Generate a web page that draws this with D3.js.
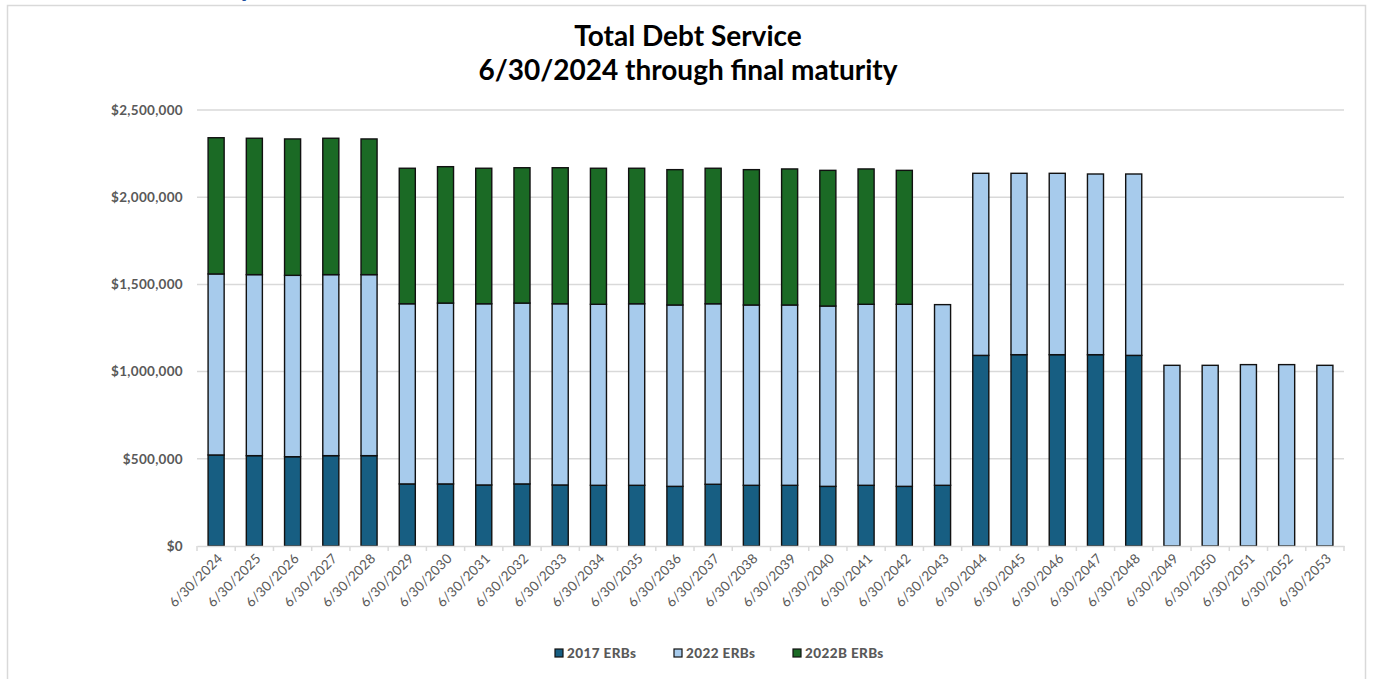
<!DOCTYPE html>
<html><head><meta charset="utf-8">
<script src="https://cdn.jsdelivr.net/npm/d3@7"></script>
<style>body{margin:0;background:#fff;}svg{display:block;}</style>
</head><body>
<svg id="c" width="1373" height="679"></svg>
<script>
const categories = ["6/30/2024","6/30/2025","6/30/2026","6/30/2027","6/30/2028","6/30/2029","6/30/2030","6/30/2031","6/30/2032","6/30/2033","6/30/2034","6/30/2035","6/30/2036","6/30/2037","6/30/2038","6/30/2039","6/30/2040","6/30/2041","6/30/2042","6/30/2043","6/30/2044","6/30/2045","6/30/2046","6/30/2047","6/30/2048","6/30/2049","6/30/2050","6/30/2051","6/30/2052","6/30/2053"];
const erb2017 = [522000,518000,512000,518000,518000,356000,356000,350000,356000,350000,348000,348000,342000,354000,348000,348000,342000,348000,342000,348000,1093000,1097000,1097000,1097000,1093000,0,0,0,0,0];
const erb2022 = [1038000,1038000,1040000,1038000,1038000,1033000,1037000,1039000,1037000,1039000,1038000,1041000,1040000,1035000,1034000,1034000,1034000,1038000,1044000,1036000,1044000,1040000,1040000,1036000,1040000,1036000,1036000,1040000,1040000,1036000];
const erb2022B = [781000,782000,782000,782000,778000,777000,782000,777000,776000,780000,780000,777000,776000,777000,776000,780000,778000,776000,768000,0,0,0,0,0,0,0,0,0,0,0];
const seriesNames = ["2017 ERBs","2022 ERBs","2022B ERBs"];
const seriesColors = ["#175e82","#a7cbec","#1b6a25"];
const yTicks = [0,500000,1000000,1500000,2000000,2500000];
const titleLines = ["Total Debt Service","6/30/2024 through final maturity"];

const svg = d3.select("#c");
const m = {left:197, right:1344, top:110, bottom:546};

// outer border
svg.append("rect").attr("x",7.5).attr("y",5.5).attr("width",1358).attr("height",700)
  .attr("fill","none").attr("stroke","#d9d9d9").attr("stroke-width",1.5);
// clipped heading fragment (cut off at top edge, as in the reference)
svg.append("text").attr("x",239).attr("y",-4).attr("font-family","Lato, sans-serif")
  .attr("font-weight","bold").attr("font-size",28).attr("fill","#1f4fa0").text("y");

// title
svg.selectAll("text.title").data(titleLines).join("text").attr("class","title")
  .attr("x",688).attr("y",(d,i)=>46+i*34).attr("text-anchor","middle")
  .attr("font-family","Lato, sans-serif").attr("font-weight","bold").attr("font-size",28)
  .attr("fill","#000").text(d=>d);

const x = d3.scaleBand().domain(categories).range([m.left,m.right]).paddingInner(0.58).paddingOuter(0.29);
const xb = d3.scaleBand().domain(categories).range([m.left,m.right]);
const y = d3.scaleLinear().domain([0,2500000]).range([m.bottom,m.top]);

// gridlines
svg.append("g").selectAll("line").data(yTicks.filter(d=>d>0)).join("line")
  .attr("x1",m.left).attr("x2",m.right).attr("y1",d=>y(d)).attr("y2",d=>y(d))
  .attr("stroke","#d9d9d9").attr("stroke-width",1.5);

// y axis labels
const yAxis = d3.axisLeft(y).tickValues(yTicks).tickSize(0).tickPadding(14)
  .tickFormat(d=>"$"+d3.format(",")(d));
const ya = svg.append("g").attr("transform",`translate(${m.left},0)`).call(yAxis);
ya.select(".domain").remove();
ya.selectAll("text").attr("font-family","Lato, sans-serif").attr("font-weight","bold")
  .attr("font-size",13.5).attr("letter-spacing","0.3px").attr("fill","#595959");

// stacked bars
const rows = categories.map((c,i)=>({cat:c, s0:erb2017[i], s1:erb2022[i], s2:erb2022B[i]}));
const stack = d3.stack().keys(["s0","s1","s2"])(rows);
svg.append("g").selectAll("g").data(stack).join("g").attr("fill",(d,i)=>seriesColors[i])
  .selectAll("rect").data(d=>d.filter(p=>p[1]-p[0]>0)).join("rect")
  .attr("x",d=>x(d.data.cat)).attr("width",x.bandwidth())
  .attr("y",d=>y(d[1])).attr("height",d=>y(d[0])-y(d[1]))
  .attr("stroke","#111").attr("stroke-width",1.4);

// x axis
const xAxis = d3.axisBottom(xb).tickSize(0).tickPadding(0);
const xa = svg.append("g").attr("transform",`translate(0,${m.bottom})`).call(xAxis);
xa.select(".domain").attr("stroke","#d9d9d9").attr("stroke-width",1.5);
svg.append("g").selectAll("line").data(categories.concat(["end"])).join("line")
  .attr("x1",(d,i)=>m.left+i*xb.step()).attr("x2",(d,i)=>m.left+i*xb.step())
  .attr("y1",m.bottom).attr("y2",m.bottom+5).attr("stroke","#d9d9d9").attr("stroke-width",1.5);
xa.selectAll(".tick text").attr("font-family","Lato, sans-serif").attr("font-size",13.5)
  .attr("letter-spacing","0.2px")
  .attr("fill","#595959").attr("text-anchor","end")
  .attr("transform","translate(4,10) rotate(-45)").attr("dy","0.35em");

// legend
const legX = [555,674,793];
const leg = svg.append("g").selectAll("g").data(seriesNames).join("g")
  .attr("transform",(d,i)=>`translate(${legX[i]},649)`);
leg.append("rect").attr("width",8).attr("height",8).attr("fill",(d,i)=>seriesColors[i])
  .attr("stroke","#111").attr("stroke-width",1.2);
leg.append("text").attr("x",12).attr("y",9).attr("font-family","Lato, sans-serif")
  .attr("font-weight","900").attr("font-size",13.5).attr("letter-spacing","0.4px")
  .attr("fill","#595959").text(d=>d);
</script>
</body></html>
